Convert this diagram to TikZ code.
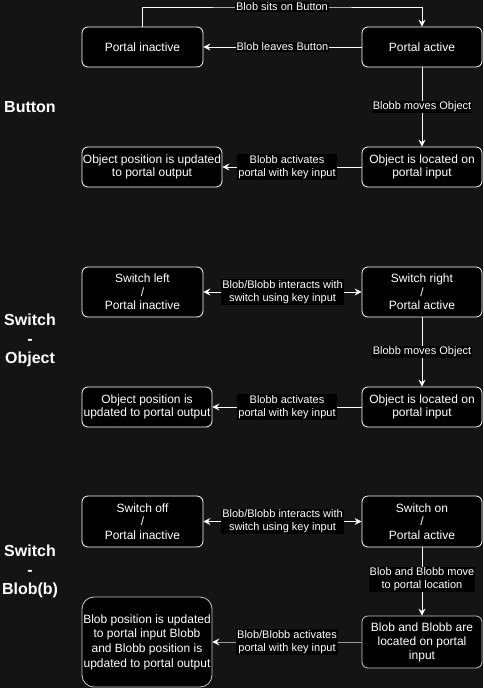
\documentclass[tikz,border=0pt]{standalone}
\usepackage{fontspec}
\setmainfont{Liberation Sans}
\usetikzlibrary{arrows.meta}
\definecolor{bg}{HTML}{141414}
\definecolor{lgray}{HTML}{C8C8C8}
\definecolor{mgray}{HTML}{9A9A9A}
\tikzset{
  box/.style={draw=white, fill=black, text=white, rounded corners=6pt, line width=0.8pt,
    align=center, inner sep=0pt, font=\fontsize{12}{13.6}\selectfont},
  lbl/.style={fill=black, text=white, align=center, inner sep=1pt,
    font=\fontsize{11}{13}\selectfont},
  arr/.style={draw=white, line width=0.9pt, -{Stealth[length=7pt,width=7pt,inset=2.5pt]}},
  darr/.style={draw=white, line width=0.9pt, {Stealth[length=7pt,width=7pt,inset=2.5pt]}-{Stealth[length=7pt,width=7pt,inset=2.5pt]}},
  garr/.style={draw=mgray, line width=0.9pt, -{Stealth[length=7pt,width=7pt,inset=2.5pt,color=white]}},
  ttl/.style={text=white, align=center, inner sep=0pt, font=\fontsize{16}{19}\selectfont\bfseries},
}
\begin{document}
\begin{tikzpicture}[x=1pt,y=-1pt]
\fill[bg] (0,0) rectangle (483,688);
\useasboundingbox (0,0) rectangle (483,688);

% Row 1: Button
\node[ttl] (t1) at (30,107) {Button};
\node[box, minimum width=121, minimum height=40] (pi) at (142.5,47) {Portal inactive};
\node[box, minimum width=120, minimum height=40] (pa) at (422,47) {Portal active};
\node[box, minimum width=120, minimum height=40] (oil) at (422,167) {Object is located on\\portal input};
\node[box, minimum width=140, minimum height=40] (opu) at (152,167) {Object position is updated\\to portal output};
\coordinate (c1) at (282,7);
\draw[arr] (pi.north) |- (c1) node[lbl] {Blob sits on Button} -| (pa.north);
\draw[arr] (pa.west) -- node[lbl] {Blob leaves Button} (pi.east);
\draw[arr] (pa.south) -- node[lbl] {Blobb moves Object} (oil.north);
\draw[arr] (oil.west) -- (opu.east);
\node[lbl] (l1) at (287,167) {Blobb activates\\portal with key input};

% Row 2: Switch - Object
\node[ttl] (t2) at (30,340.5) {Switch\\-\\Object};
\node[box, minimum width=121, minimum height=50] (sl) at (142.5,292) {Switch left\\/\\Portal inactive};
\node[box, minimum width=120, minimum height=50] (sr) at (422,292) {Switch right\\/\\Portal active};
\node[box, minimum width=120, minimum height=40] (oil2) at (422,407) {Object is located on\\portal input};
\node[box, minimum width=130, minimum height=40] (opu2) at (147,407) {Object position is\\updated to portal output};
\draw[darr] (sl.east) -- node[lbl] {Blob/Blobb interacts with\\switch using key input} (sr.west);
\draw[arr] (sr.south) -- node[lbl] {Blobb moves Object} (oil2.north);
\draw[arr] (oil2.west) -- node[lbl] {Blobb activates\\portal with key input} (opu2.east);

% Row 3: Switch - Blob(b)
\node[ttl] (t3) at (30,571.5) {Switch\\-\\Blob(b)};
\node[box, minimum width=121, minimum height=51] (so) at (142.5,521.5) {Switch off\\/\\Portal inactive};
\node[box, minimum width=120, minimum height=51] (son) at (422,521.5) {Switch on\\/\\Portal active};
\node[box, draw=lgray, minimum width=120, minimum height=52, font=\fontsize{12}{14}\selectfont] (bbl) at (422,642) {Blob and Blobb are\\located on portal\\input};
\node[box, draw=lgray, rounded corners=12pt, minimum width=130, minimum height=90, font=\fontsize{12}{14.6}\selectfont] (bpu) at (147,642) {Blob position is updated\\to portal input Blobb\\and Blobb position is\\updated to portal output};
\draw[darr] (so.east) -- node[lbl] {Blob/Blobb interacts with\\switch using key input} (son.west);
\draw[arr] (son.south) -- node[lbl, pos=0.47] {Blob and Blobb move\\to portal location} (bbl.north);
\draw[garr] (bbl.west) -- node[lbl] {Blob/Blobb activates\\portal with key input} (bpu.east);
\end{tikzpicture}
\end{document}
